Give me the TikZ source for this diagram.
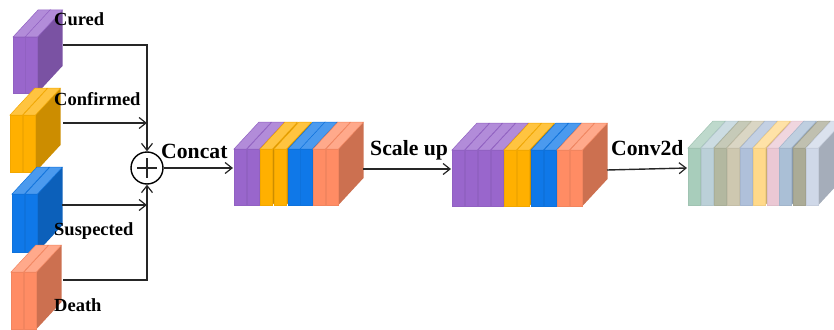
\documentclass[tikz,border=0pt]{standalone}
\usepackage{fontspec}
\setmainfont{Liberation Serif}
\usetikzlibrary{arrows.meta}
\definecolor{purp}{HTML}{9966CC}
\definecolor{oran}{HTML}{FFB000}
\definecolor{blu}{HTML}{0F78E8}
\definecolor{coral}{HTML}{FF8C64}
\definecolor{cvA}{HTML}{A8CDBB}
\definecolor{cvB}{HTML}{BBD0D8}
\definecolor{cvC}{HTML}{B3B8A0}
\definecolor{cvD}{HTML}{CEC8B0}
\definecolor{cvE}{HTML}{AFC0DA}
\definecolor{cvF}{HTML}{FFD98A}
\definecolor{cvG}{HTML}{EBC8D4}
\definecolor{cvH}{HTML}{AABFD6}
\definecolor{cvI}{HTML}{ABAB96}
\definecolor{cvJ}{HTML}{CFD8E8}
% one slab: left x, top y, bottom y, colour
\newcommand{\slab}[4]{
  \fill[#4!80!black] (#1+12.5,#2) -- ++(25,-27) -- (#1+37.5,#3-27) -- (#1+12.5,#3) -- cycle;
  \filldraw[fill=#4!75!white, draw=#4!95!black, line width=0.5pt] (#1,#2) -- ++(25,-27) -- ++(12.5,0) -- (#1+12.5,#2) -- cycle;
  \filldraw[fill=#4, draw=#4!95!black, line width=0.5pt] (#1,#2) rectangle (#1+12.5,#3);
}
\tikzset{
  lbl/.style={font=\bfseries\fontsize{18.5}{20}\selectfont, anchor=west, inner sep=0pt},
  oplbl/.style={font=\bfseries\fontsize{21.7}{24}\selectfont, anchor=west, inner sep=0pt},
  conn/.style={draw=black!85, line width=1.4pt},
  arr/.style={conn, -{Straight Barb[length=7pt,width=11pt,line width=1.2pt]}}
}
\begin{document}
\begin{tikzpicture}[x=1pt,y=-1pt]
  \useasboundingbox (0,0) rectangle (834,329);
  % input stacks
  \foreach \px in {13,25} {\slab{\px}{37}{93}{purp}}
  \foreach \px in {10,23} {\slab{\px}{115}{172}{oran}}
  \foreach \px in {12,25} {\slab{\px}{194}{252}{blu}}
  \foreach \px in {11,24} {\slab{\px}{272}{329}{coral}}
  % concat stack
  \foreach \px/\pc in {234/purp,247/purp,260/oran,274/oran,288/blu,300/blu,313/coral,326/coral}
    {\slab{\px}{149}{205}{\pc}}
  % scaled stack
  \foreach \px/\pc in {452/purp,465/purp,478/purp,491/purp,504/oran,517/oran,531/blu,544/blu,557/coral,570/coral}
    {\slab{\px}{150}{206}{\pc}}
  % conv2d stack
  \foreach \px/\pc in {688/cvA,701/cvB,714/cvC,727/cvD,740/cvE,753/cvF,767/cvG,779/cvH,793/cvI,806/cvJ}
    {\slab{\px}{148}{205}{\pc}}

  \node[lbl] (cured) at (54,19) {Cured};
  \node[lbl] (confirmed) at (54,99) {Confirmed};
  \node[lbl] (suspected) at (54,231) {Suspected};
  \node[lbl] (death) at (54,305) {Death};
  \node[oplbl] (concat) at (161,151) {Concat};
  \node[oplbl] (scaleup) at (370,150) {Scale up};
  \node[oplbl] (conv) at (611,148) {Conv2d};

  \node[circle, draw=black, line width=1.4pt, minimum size=32pt, inner sep=0pt] (plus) at (147,168) {};
  \draw[conn] (plus.center) +(-10,0) -- +(10,0);
  \draw[conn] (plus.center) +(0,-10) -- +(0,10);

  \coordinate (curedout) at (63,45);
  \coordinate (confout) at (63,123);
  \coordinate (confin) at (147,123);
  \coordinate (suspout) at (62,205);
  \coordinate (suspin) at (147,205);
  \coordinate (deathout) at (63,280);
  \coordinate (concatin) at (233,168);
  \coordinate (concatout) at (363,169);
  \coordinate (scalein) at (451,169);
  \coordinate (scaleout) at (607,170);
  \coordinate (convin) at (687,168);

  \draw[arr] (curedout) -| (plus.north);
  \draw[arr] (confout) -- (confin);
  \draw[arr] (suspout) -- (suspin);
  \draw[arr] (deathout) -| (plus.south);
  \draw[arr] (plus.east |- concatin) -- (concatin);
  \draw[arr] (concatout) -- (scalein);
  \draw[arr] (scaleout) -- (convin);
\end{tikzpicture}
\end{document}
